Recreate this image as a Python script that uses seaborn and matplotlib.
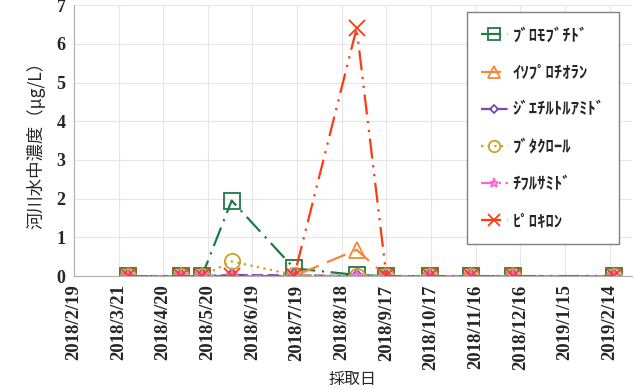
import numpy as np
import pandas as pd
import matplotlib
matplotlib.use("Agg")
import matplotlib.pyplot as plt
import matplotlib.dates as mdates
from matplotlib.ticker import FuncFormatter
import seaborn as sns

# sampling dates and concentrations (ug/L)
dates = ["2018-03-27", "2018-05-02", "2018-05-16", "2018-06-05", "2018-07-17",
         "2018-08-28", "2018-09-17", "2018-10-16", "2018-11-13", "2018-12-11",
         "2019-02-17"]
bromobutide = [0, 0, 0, 1.95, 0.2, 0.03, 0, 0, 0, 0, 0]
isoprothiolane = [0, 0, 0, 0, 0, 0.68, 0, 0, 0, 0, 0]
deet = [0, 0, 0, 0.03, 0.02, 0, 0, 0, 0, 0, 0]
butachlor = [0, 0, 0, 0.38, 0.03, 0, 0, 0, 0, 0, 0]
thifluzamide = [0, 0, 0, 0, 0, 0, 0, 0, 0, 0, 0]
pyroquilon = [0, 0, 0, 0, 0, 6.4, 0, 0, 0, 0, 0]

names = ["ﾌﾞﾛﾓﾌﾞﾁﾄﾞ", "ｲｿﾌﾟﾛﾁｵﾗﾝ", "ｼﾞｴﾁﾙﾄﾙｱﾐﾄﾞ", "ﾌﾞﾀｸﾛｰﾙ", "ﾁﾌﾙｻﾐﾄﾞ", "ﾋﾟﾛｷﾛﾝ"]
series = [bromobutide, isoprothiolane, deet, butachlor, thifluzamide, pyroquilon]

colors = ["#1f7a45", "#f4873a", "#7b49b0", "#c9a227", "#ff66cc", "#ff3a10"]
markers = ["s", "^", "D", "o", "*", "x"]
msizes = [11, 11, 6, 11, 9, 11]
dashes = [(0, (9, 3, 1, 3)), (0, (9, 4)), (0, (5, 2)), (0, (1, 2)),
          (0, (6, 2, 1, 2)), (0, (9, 3, 1, 3, 1, 3))]

sns.set_style("whitegrid", {"grid.color": "#e6e6e6", "axes.edgecolor": "#b0b0b0"})
plt.rcParams['font.family'] = ['Noto Sans CJK JP', 'DejaVu Sans']

fig, ax = plt.subplots(figsize=(6.35, 3.9), dpi=100)
fig.subplots_adjust(left=0.1165, right=0.995, bottom=0.292, top=0.987)

x = pd.to_datetime(dates)
for name, vals, c, m, ms, ls in zip(names, series, colors, markers, msizes, dashes):
    sns.lineplot(x=x, y=vals, ax=ax, color=c, linewidth=1.6, label=name,
                 marker=m, markersize=ms, markerfacecolor="none",
                 markeredgecolor=c, markeredgewidth=1.3, linestyle=ls)
    ax.lines[-1].set_linestyle(ls)

start = pd.Timestamp("2018-02-19")
ticks = [start + pd.Timedelta(days=30 * i) for i in range(13)]
ax.set_xticks(ticks)
ax.xaxis.set_major_formatter(FuncFormatter(
    lambda v, p: (lambda d: f"{d.year}/{d.month}/{d.day}")(mdates.num2date(v))))
ax.set_xlim(start, pd.Timestamp("2019-03-01"))
ax.set_ylim(0, 7)
ax.set_yticks(range(8))

for lab in ax.get_xticklabels():
    lab.set_rotation(90)
    lab.set_fontfamily("Liberation Serif")
    lab.set_fontweight("bold")
    lab.set_fontsize(13.5)
for lab in ax.get_yticklabels():
    lab.set_fontfamily("Liberation Serif")
    lab.set_fontweight("bold")
    lab.set_fontsize(13)
ax.tick_params(axis="both", length=0, pad=6)

for s in ["top", "right"]:
    ax.spines[s].set_visible(False)
for s in ["left", "bottom"]:
    ax.spines[s].set_color("#b0b0b0")

ax.set_xlabel("採取日", fontsize=11.5, labelpad=1)
ax.set_ylabel("河川水中濃度（μg/L）", fontsize=12.5, labelpad=8)

leg = ax.legend(loc="upper left", bbox_to_anchor=(0.704, 0.974), frameon=True,
                fancybox=False, edgecolor="#808080", framealpha=1,
                fontsize=12, labelspacing=1.15, handlelength=1.6,
                handletextpad=0.3, borderpad=0.85, borderaxespad=0,
                markerscale=0.75)
leg.get_frame().set_linewidth(1.0)
for t in leg.get_texts():
    t.set_fontweight("bold")

plt.savefig("out.png", dpi=100)
plt.close()
